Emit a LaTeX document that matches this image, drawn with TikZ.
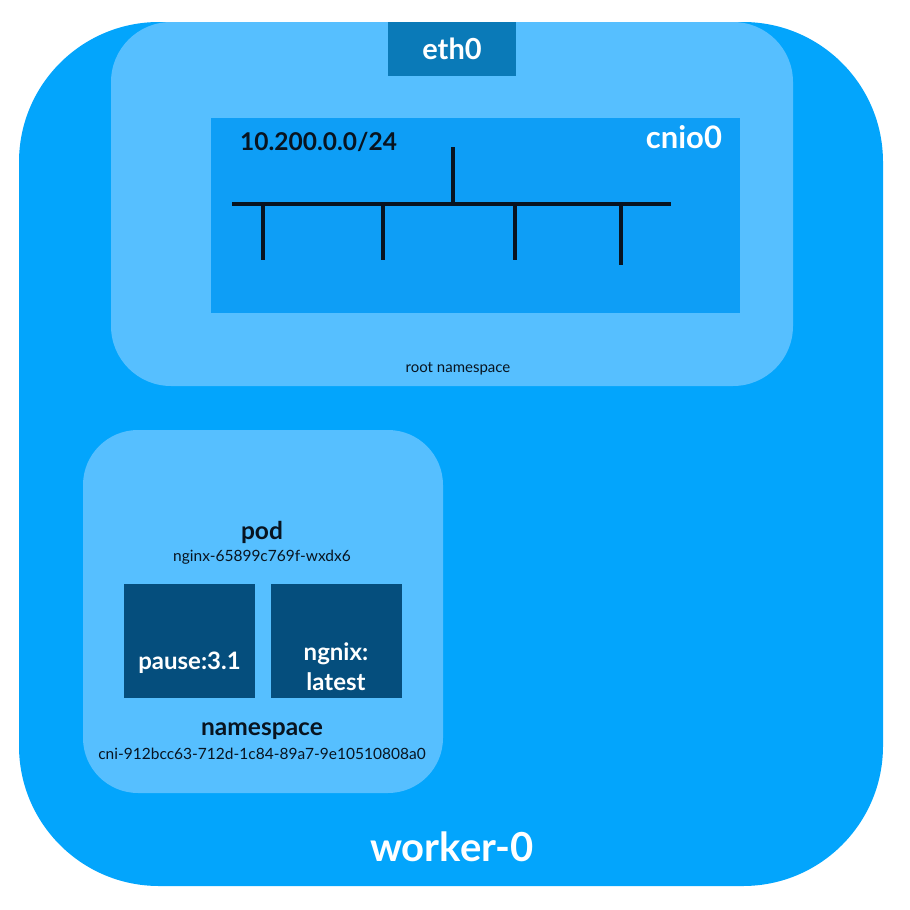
\documentclass[tikz,border=0pt]{standalone}
\usepackage{fontspec}
\setmainfont{Lato}
\usetikzlibrary{positioning}
\definecolor{workerblue}{RGB}{3,165,252}
\definecolor{nsblue}{RGB}{86,191,255}
\definecolor{bridgeblue}{RGB}{14,158,246}
\definecolor{ethblue}{RGB}{10,122,184}
\definecolor{ctrblue}{RGB}{5,78,125}
\definecolor{inkdark}{RGB}{8,20,32}
\tikzset{
  ctrbox/.style={fill=ctrblue,minimum width=131pt,minimum height=114pt,inner sep=0pt},
  title/.style={font=\bfseries\fontsize{24.5}{28}\selectfont,text=inkdark,inner sep=0pt},
  idtext/.style={font=\fontsize{15.5}{18}\selectfont,text=inkdark,inner sep=0pt},
  whitetext/.style={font=\bfseries\fontsize{#1}{#1}\selectfont,text=white,inner sep=0pt},
  wire/.style={line width=4pt,draw=inkdark}
}

\begin{document}
\begin{tikzpicture}[x=1pt,y=-1pt]
\useasboundingbox (0,0) rectangle (910,910);
\fill[workerblue,rounded corners=140pt](19,22) rectangle (883,886);
\fill[nsblue,rounded corners=60pt](111,22) rectangle (793,386);
\fill[nsblue,rounded corners=55pt](83,430) rectangle (443,793);
% root namespace
\node[fill=ethblue,minimum width=128pt,minimum height=54pt,inner sep=0pt] (eth) at (452,49) {};
\node[whitetext=29] (ethlabel) at (eth) {eth0};
\node[fill=bridgeblue,minimum width=529pt,minimum height=195pt,inner sep=0pt] (cnio) at (475.5,215.5) {};
\node[whitetext=31,anchor=north east] (cniolabel) at ([xshift=-18pt,yshift=-8pt]cnio.north east) {cnio0};
\node[title,anchor=west] (subnet) at (240,142) {10.200.0.0/24};
\coordinate (busleft) at (232,204);
\coordinate (busright) at (671,204);
\coordinate (uplink) at (453,147);
\draw[wire](busleft)--(busright)(uplink)--(453,204);
\draw[wire](263,204)--(263,260)(383,204)--(383,260)(515,204)--(515,260)(621,204)--(621,265);
\node[idtext,font=\fontsize{15}{17}\selectfont] (rootns) at (458,369) {root namespace};
% pod namespace
\node[title] (pod) at (262,532) {pod};
\node[idtext] (podname) at (262,557) {nginx-65899c769f-wxdx6};
\node[ctrbox] (pause) at (189.5,641) {};
\node[ctrbox] (ngnix) at (336,641) {};
\node[whitetext=24] (pauselabel) at (189.5,663) {pause:3.1};
\node[whitetext=24,align=center,font=\bfseries\fontsize{24}{30}\selectfont] (ngnixlabel) at (336,667) {ngnix:\\latest};
\node[title] (ns) at (262,731) {namespace};
\node[idtext] (nsname) at (262,754) {cni-912bcc63-712d-1c84-89a7-9e10510808a0};
% node
\node[whitetext=40] (worker) at (452,847) {worker-0};
\end{tikzpicture}
\end{document}
